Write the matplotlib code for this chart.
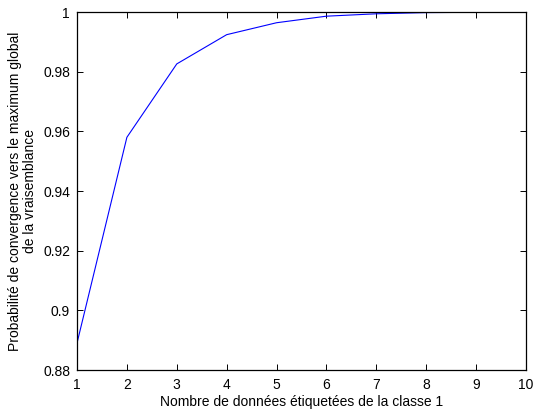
import matplotlib
matplotlib.use("Agg")
import matplotlib.pyplot as plt

plt.rcParams['font.family'] = ['Liberation Sans', 'DejaVu Sans']

# labelled data count vs probability of reaching the global maximum
n_labeled = [1, 2, 3, 4, 5, 6, 7, 8, 9, 10]
prob_conv = [0.889, 0.958, 0.9826, 0.9924, 0.9964, 0.9986, 0.9994, 0.9998, 0.9999, 0.9999]

xticks = [1, 2, 3, 4, 5, 6, 7, 8, 9, 10]
yticks = [0.88, 0.9, 0.92, 0.94, 0.96, 0.98, 1.0]
ytick_labels = ['0.88', '0.9', '0.92', '0.94', '0.96', '0.98', '1']

fig = plt.figure(figsize=(5.33, 4.11), dpi=100)
ax = fig.add_axes([77 / 533, 1 - 370 / 411, 449 / 533, 358 / 411])

ax.plot(n_labeled, prob_conv, color='#0000ff', linewidth=0.8)

ax.set_xlim(1, 10)
ax.set_ylim(0.88, 1.0)
ax.set_xticks(xticks)
ax.set_yticks(yticks)
ax.set_yticklabels(ytick_labels)
ax.tick_params(direction='in', top=True, right=True, length=4, width=0.7,
               labelsize=10)
ax.tick_params(axis='x', pad=6)
ax.tick_params(axis='y', pad=5)
for s in ax.spines.values():
    s.set_linewidth(0.9)

ax.set_xlabel("Nombre de données étiquetées de la classe 1", fontsize=10, labelpad=2)
ax.set_ylabel("Probabilité de convergence vers le maximum global\nde la vraisemblance",
              fontsize=10, labelpad=4, linespacing=1.15)

fig.savefig("out.png", dpi=100)
